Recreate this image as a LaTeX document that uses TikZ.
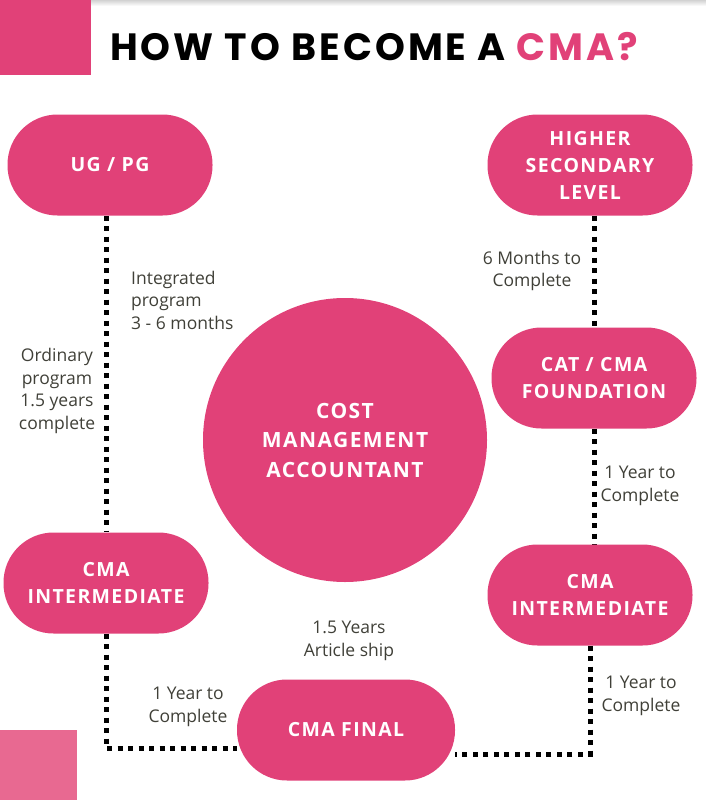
\documentclass[tikz,border=0pt]{standalone}
\usepackage{fontspec}
\setmainfont{Open Sans}
\newfontfamily\titlefont[LetterSpace=8]{Poppins}
\newfontfamily\boxfont[LetterSpace=7]{Open Sans}
\usetikzlibrary{backgrounds}
\definecolor{cmapink}{RGB}{225,65,120}
\definecolor{cmalight}{RGB}{232,105,145}
\definecolor{cmatext}{RGB}{64,64,56}
\tikzset{
  pill/.style={fill=cmapink,rounded corners=50pt,minimum width=205pt,minimum height=101pt,
    text=white,align=center,font=\boxfont\bfseries\fontsize{19.5}{27}\selectfont,inner sep=0pt},
  note/.style={text=cmatext,align=center,font=\fontsize{17.5}{22.5}\selectfont,inner sep=0pt},
  dotline/.style={line width=5pt,dash pattern=on 5pt off 5.5pt}
}
\begin{document}
\begin{tikzpicture}[x=1pt,y=-1pt]
  \useasboundingbox (0,0) rectangle (706,800);
  \shade[top color=gray!35,bottom color=white] (91,0) rectangle (706,6);
  \fill[cmapink] (0,0) rectangle (91,75);
  \fill[cmalight] (0,730) rectangle (77,800);
  \node[anchor=base west,inner sep=0pt,font=\titlefont\bfseries\fontsize{38}{38}\selectfont] (title) at (110,60)
    {HOW TO BECOME A \textcolor{cmapink}{CMA?}};
  % steps
  \node[pill] (ugpg) at (110,165) {UG / PG};
  \node[pill] (hsl) at (590,165) {HIGHER\\SECONDARY\\LEVEL};
  \node[pill] (cat) at (594,378) {CAT / CMA\\FOUNDATION};
  \node[pill] (intl) at (106,583) {CMA\\INTERMEDIATE};
  \node[pill] (intr) at (590,595) {CMA\\INTERMEDIATE};
  \node[pill,minimum width=218pt] (final) at (346,730) {CMA FINAL};
  \node[circle,fill=cmapink,minimum size=284pt,text=white,align=center,inner sep=0pt,
    font=\boxfont\bfseries\fontsize{21}{29.5}\selectfont] (cma) at (345,440) {COST\\MANAGEMENT\\ACCOUNTANT};
  % dotted paths
  \begin{scope}[on background layer]
    \draw[dotline] (intl.north |- ugpg.south) -- (intl.north);
    \draw[dotline] (intl.south) |- ([yshift=-18pt]final.west);
    \draw[dotline] (cat.north |- hsl.south) -- (cat.north);
    \draw[dotline] (cat.south) -- (cat.south |- intr.north);
    \draw[dotline] (intr.south) |- ([yshift=-24pt]final.east);
  \end{scope}
  % durations
  \node[note,anchor=west,align=left] (integ) at (131,300) {Integrated\\program\\3 - 6 months};
  \node[note] (ordin) at (57,391) {Ordinary\\program\\1.5 years\\complete};
  \node[note] (sixm) at (532,271) {6 Months to\\Complete};
  \node[note] (oneyr) at (640,486) {1 Year to\\Complete};
  \node[note] (artic) at (349,641) {1.5 Years\\Article ship};
  \node[note] (oneyl) at (188,707) {1 Year to\\Complete};
  \node[note] (oneyb) at (641,696) {1 Year to\\Complete};
\end{tikzpicture}
\end{document}
